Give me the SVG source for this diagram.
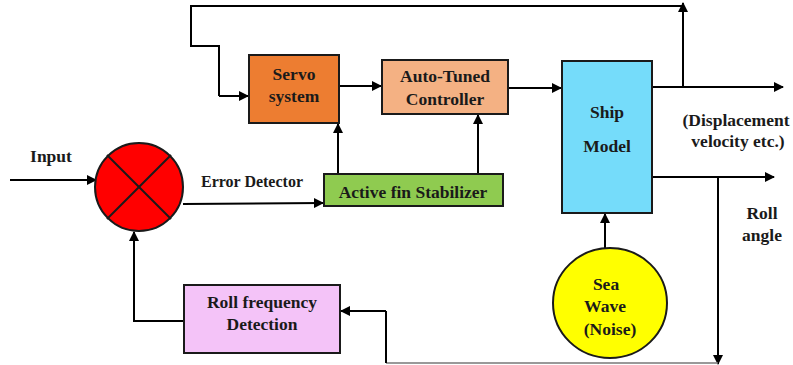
<svg xmlns="http://www.w3.org/2000/svg" width="793" height="365" viewBox="0 0 793 365">
<defs>
<style>
.box{stroke:#1a1a1a;stroke-width:2}
.t{font-family:'Liberation Serif','Times New Roman','DejaVu Serif',serif;font-weight:700;font-size:17.5px;fill:#1a1a1a;text-anchor:middle}
.sm{font-size:16px}
.l{fill:none;stroke:#000;stroke-width:2}
.a{fill:none;stroke:#000;stroke-width:2;marker-end:url(#ah)}
</style>
<marker id="ah" viewBox="0 0 10 10" refX="9" refY="5" markerWidth="5" markerHeight="5" orient="auto" markerUnits="strokeWidth">
<path d="M0,0 L10,5 L0,10 z" fill="#000"/>
</marker>
</defs>
<rect width="793" height="365" fill="#fff"/>
<g id="connectors">
<polyline class="l" points="683,87 683,6 191,6 191,46 219,46 219,96"/>
<line class="a" x1="683" y1="87" x2="683" y2="3"/>
<line class="a" x1="219" y1="96" x2="248" y2="96"/>
<line class="a" x1="339" y1="86" x2="381" y2="86"/>
<line class="a" x1="508" y1="88" x2="561" y2="88"/>
<line class="a" x1="652" y1="87" x2="783" y2="87"/>
<line class="a" x1="652" y1="177" x2="774" y2="177"/>
<line class="a" x1="718" y1="177" x2="718" y2="364"/>
<line x1="386" y1="363" x2="718" y2="363" stroke="#777" stroke-width="1.5"/>
<polyline class="l" points="386,363 386,311"/>
<line class="a" x1="386" y1="311" x2="341" y2="311"/>
<polyline class="l" points="184,321 134,321 134,236"/>
<line class="a" x1="134" y1="240" x2="134" y2="232"/>
<line class="a" x1="10" y1="180" x2="96" y2="180"/>
<line class="a" x1="183" y1="204" x2="323" y2="203"/>
<line class="a" x1="338" y1="174" x2="338" y2="124"/>
<line class="a" x1="478" y1="174" x2="478" y2="115"/>
<line class="a" x1="605" y1="248" x2="605" y2="214"/>
</g>
<g id="error-detector">
<circle cx="139" cy="187" r="44" fill="#ff0000" stroke="#1a1a1a" stroke-width="2"/>
<line x1="107" y1="155" x2="171" y2="219" stroke="#1a1a1a" stroke-width="2"/>
<line x1="171" y1="155" x2="107" y2="219" stroke="#1a1a1a" stroke-width="2"/>
</g>
<g id="servo">
<rect class="box" x="249" y="55" width="90" height="68" fill="#ed7d31"/>
<text class="t" x="294" y="80">Servo</text>
<text class="t" x="294" y="102">system</text>
</g>
<g id="auto-tuned">
<rect class="box" x="382" y="60" width="126" height="54" fill="#f4b183"/>
<text class="t" x="445" y="82">Auto-Tuned</text>
<text class="t" x="445" y="105">Controller</text>
</g>
<g id="ship-model">
<rect class="box" x="562" y="61" width="90" height="152" fill="#75dcfa"/>
<text class="t" x="607" y="118">Ship</text>
<text class="t" x="607" y="152">Model</text>
</g>
<g id="active-fin">
<rect class="box" x="324" y="174" width="179" height="32" fill="#8fcb50"/>
<text class="t" x="413" y="198">Active fin Stabilizer</text>
</g>
<g id="roll-frequency">
<rect class="box" x="184" y="285" width="156" height="68" fill="#f4c3f8"/>
<text class="t" x="262" y="308">Roll frequency</text>
<text class="t" x="262" y="330">Detection</text>
</g>
<g id="sea-wave">
<ellipse cx="610" cy="303" rx="57" ry="55" fill="#ffff00" stroke="#1a1a1a" stroke-width="2"/>
<text class="t" x="606" y="290">Sea</text>
<text class="t" x="605" y="312">Wave</text>
<text class="t" x="610" y="335">(Noise)</text>
</g>
<g id="labels">
<text class="t" x="51" y="162">Input</text>
<text class="t sm" x="252" y="187">Error Detector</text>
<text class="t" x="736" y="126">(Displacement</text>
<text class="t" x="738" y="147">velocity etc.)</text>
<text class="t" x="762" y="219">Roll</text>
<text class="t" x="762" y="241">angle</text>
</g>
</svg>
